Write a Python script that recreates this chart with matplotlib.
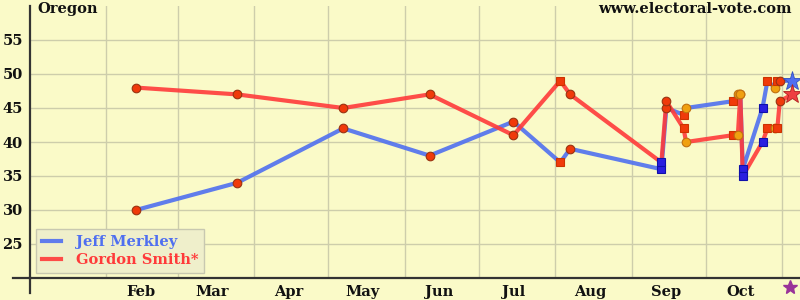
import matplotlib
matplotlib.use('Agg')
import matplotlib.pyplot as plt
import pandas as pd

# poll data, Oregon senate race 2008
poll_dates = ['2008-02-13', '2008-03-25', '2008-05-07', '2008-06-11', '2008-07-15',
              '2008-08-03', '2008-08-07', '2008-09-13', '2008-09-15', '2008-09-22',
              '2008-09-23', '2008-10-12', '2008-10-14', '2008-10-15', '2008-10-16',
              '2008-10-24', '2008-10-26', '2008-10-29', '2008-10-30', '2008-10-31']
merkley = [30, 34, 42, 38, 43, 37, 39, 36, 45, 44, 45, 46, 47, 47, 36, 45, 49, 48, 49, 49]
smith = [48, 47, 45, 47, 41, 49, 47, 37, 46, 42, 40, 41, 41, 47, 35, 40, 42, 42, 42, 46]
pollster = ['A', 'A', 'A', 'A', 'A', 'B', 'A', 'C', 'A', 'B',
            'D', 'B', 'D', 'D', 'C', 'C', 'B', 'D', 'B', 'A']

result_date = '2008-11-05'
result_merkley = 49
result_smith = 47
election_day = '2008-11-04'

candidates = ['Jeff Merkley', 'Gordon Smith*']
month_labels = ['Feb', 'Mar', 'Apr', 'May', 'Jun', 'Jul', 'Aug', 'Sep', 'Oct']

# marker style per pollster
marker_style = {
    'A': dict(marker='o', ms=6.2, mfc='#f03a0a', mec='#993311'),
    'B': dict(marker='s', ms=5.3, mfc='#f03a0a', mec='#cc3300'),
    'C': dict(marker='s', ms=5.3, mfc='#2a1ee0', mec='#1010aa'),
    'D': dict(marker='o', ms=6.2, mfc='#f0a010', mec='#c07010'),
}

BG = '#fafac8'
BLUE = '#4f6ff0'
RED = '#ff3a3a'
FONT = 'DejaVu Serif'

dates = pd.to_datetime(poll_dates)
res_d = pd.to_datetime(result_date)

fig = plt.figure(figsize=(8, 3), dpi=100, facecolor=BG)
ax = fig.add_axes([30 / 800, 22 / 300, 770 / 800, 272 / 300], facecolor=BG)

# lines (ending at the result stars)
xb = list(dates) + [res_d]
ax.plot(xb, merkley + [result_merkley], color=BLUE, lw=3.0, alpha=0.9,
        solid_joinstyle='round', zorder=3, label=candidates[0])
ax.plot(xb, smith + [result_smith], color=RED, lw=3.0, alpha=0.9,
        solid_joinstyle='round', zorder=3, label=candidates[1])

# markers
for d, m, s, p in zip(dates, merkley, smith, pollster):
    st = marker_style[p]
    ax.plot([d, d], [m, s], ls='none', mew=0.8, zorder=4, **st)

ax.plot([res_d], [result_merkley], marker='*', ms=14, color=BLUE, mec='#3050c0',
        mew=0.6, zorder=5, ls='none')
ax.plot([res_d], [result_smith], marker='*', ms=14, color='#ee4040', mec='#b02020',
        mew=0.6, zorder=5, ls='none')

# election day star under the axis
ax.plot([pd.to_datetime(election_day)], [-0.033], marker='*', ms=10, color='#993399',
        transform=ax.get_xaxis_transform(), clip_on=False, ls='none', zorder=5)

# axes setup
start = pd.Timestamp('2008-01-01')
ax.set_xlim(start, start + pd.Timedelta(days=312.2))
ax.set_ylim(20, 60)

month_starts = pd.date_range('2008-02-01', '2008-11-01', freq='MS')
ax.set_xticks(month_starts)
ax.set_xticklabels([])
mid = month_starts[:-1] + pd.Timedelta(days=14)
ax.set_xticks(mid, minor=True)
ax.set_xticklabels(month_labels, minor=True)
ax.set_yticks(range(25, 60, 5))

ax.tick_params(which='both', length=0)
ax.tick_params(axis='x', which='minor', pad=5)
ax.tick_params(axis='y', pad=5)
for lab in ax.get_xticklabels(minor=True) + ax.get_yticklabels():
    lab.set_fontfamily(FONT)
    lab.set_fontweight('bold')
    lab.set_fontsize(10.5)
    lab.set_color('#111111')

ax.grid(True, which='major', color='#cdcdab', lw=1, zorder=0)
for s in ['top', 'right']:
    ax.spines[s].set_visible(False)
for s in ['left', 'bottom']:
    ax.spines[s].set_color('#333333')
    ax.spines[s].set_linewidth(1.6)

# spines poke past the corner
ax.plot([-0.022, 0], [0, 0], transform=ax.transAxes, color='#333333', lw=1.6, clip_on=False)
ax.plot([0, 0], [-0.055, 0], transform=ax.transAxes, color='#333333', lw=1.6, clip_on=False)

fig.text(37 / 800, 1 - 2 / 300, 'Oregon', ha='left', va='top', fontfamily=FONT,
         fontweight='bold', fontsize=10.5, color='#111111')
fig.text(792 / 800, 1 - 2 / 300, 'www.electoral-vote.com', ha='right', va='top',
         fontfamily=FONT, fontweight='bold', fontsize=10.5, color='#111111')

leg = ax.legend(loc='lower left', bbox_to_anchor=(0.008, 0.018), borderaxespad=0,
                prop={'family': FONT, 'weight': 'bold', 'size': 10.5},
                facecolor='#efefcb', edgecolor='#c8c8b0', framealpha=1, fancybox=False,
                handlelength=1.3, handletextpad=1.0, borderpad=0.4, labelspacing=0.3)
for txt, c in zip(leg.get_texts(), [BLUE, RED]):
    txt.set_color(c)

fig.savefig('out.png', dpi=100, facecolor=BG)
